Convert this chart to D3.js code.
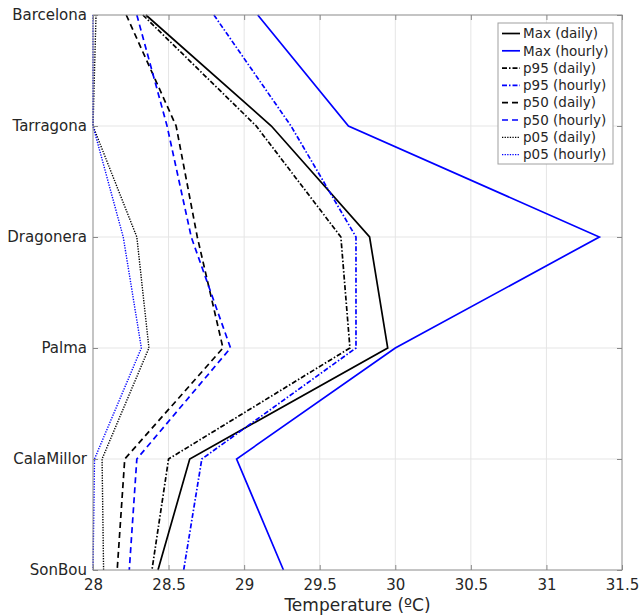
<!DOCTYPE html>
<meta charset="utf-8">
<style>
body { margin: 0; background: #fff; }
svg text { font-family: "DejaVu Sans", sans-serif; fill: #262626; }
.grid line { stroke: #e5e5e5; stroke-width: 1; }
.series path { fill: none; }
</style>
<svg width="640" height="616"></svg>
<script src="https://cdn.jsdelivr.net/npm/d3@7"></script>
<script>

// stations, top to bottom
var stations = ["Barcelona", "Tarragona", "Dragonera", "Palma", "CalaMillor", "SonBou"];

var xTicks = [28, 28.5, 29, 29.5, 30, 30.5, 31, 31.5];

// temperatures (ºC) per station
var maxDaily   = [28.35, 29.18, 29.83, 29.95, 28.64, 28.43];
var maxHourly  = [29.09, 29.69, 31.35, 30.00, 28.95, 29.26];
var p95Daily   = [28.33, 29.08, 29.64, 29.70, 28.50, 28.39];
var p95Hourly  = [28.80, 29.31, 29.74, 29.74, 28.72, 28.60];
var p50Daily   = [28.22, 28.55, 28.69, 28.86, 28.21, 28.16];
var p50Hourly  = [28.29, 28.49, 28.65, 28.91, 28.29, 28.24];
var p05Daily   = [28.02, 28.00, 28.29, 28.37, 28.06, 28.07];
var p05Hourly  = [28.00, 28.00, 28.20, 28.32, 28.01, 28.00];

var seriesNames = ["Max (daily)", "Max (hourly)", "p95 (daily)", "p95 (hourly)",
                   "p50 (daily)", "p50 (hourly)", "p05 (daily)", "p05 (hourly)"];
var seriesValues = [maxDaily, maxHourly, p95Daily, p95Hourly, p50Daily, p50Hourly, p05Daily, p05Hourly];

var colors = { daily: "#000000", hourly: "#0000ff" };
var dashes = { Max: null, p95: "5,2,1.5,2", p50: "6,4", p05: "1.3,1.3" };

var svg = d3.select("svg");
var pLeft = 93, pRight = 622, pTop = 15, pBottom = 570;

var x = d3.scaleLinear().domain([28, 31.5]).range([pLeft, pRight]);
var y = d3.scalePoint().domain(stations).range([pTop, pBottom]);

// grid
var grid = svg.append("g").attr("class", "grid");
grid.selectAll(".gx").data(xTicks.slice(1, -1)).enter().append("line")
    .attr("x1", function(d) { return x(d); }).attr("x2", function(d) { return x(d); })
    .attr("y1", pTop).attr("y2", pBottom);
grid.selectAll(".gy").data(stations.slice(1, -1)).enter().append("line")
    .attr("x1", pLeft).attr("x2", pRight)
    .attr("y1", function(d) { return y(d); }).attr("y2", function(d) { return y(d); });

// series
var line = d3.line()
    .x(function(d) { return x(d.v); })
    .y(function(d) { return y(d.s); });

var g = svg.append("g").attr("class", "series");
seriesNames.forEach(function(name, i) {
  var kind = name.split(" ")[0];
  var res = name.indexOf("hourly") >= 0 ? "hourly" : "daily";
  var pts = seriesValues[i].map(function(v, j) { return { v: v, s: stations[j] }; });
  g.append("path")
      .datum(pts)
      .attr("d", line)
      .attr("stroke", colors[res])
      .attr("stroke-width", kind === "p05" ? 1.4 : 1.7)
      .attr("stroke-dasharray", dashes[kind]);
});

// box + ticks
var axisColor = "#8a8a8a";
svg.append("rect")
    .attr("x", pLeft).attr("y", pTop)
    .attr("width", pRight - pLeft).attr("height", pBottom - pTop)
    .attr("fill", "none").attr("stroke", axisColor).attr("stroke-width", 1);

var xAxis = d3.axisBottom(x).tickValues(xTicks).tickSize(-5).tickPadding(9)
    .tickFormat(function(d) { return d; });
var gx = svg.append("g").attr("transform", "translate(0," + pBottom + ")").call(xAxis);
gx.select(".domain").remove();
gx.selectAll("line").attr("stroke", axisColor);
gx.selectAll("text").attr("font-size", 15).attr("fill", "#262626").attr("font-family", "DejaVu Sans");

var xTop = d3.axisTop(x).tickValues(xTicks).tickSize(-5).tickFormat("");
var gxt = svg.append("g").attr("transform", "translate(0," + pTop + ")").call(xTop);
gxt.select(".domain").remove();
gxt.selectAll("line").attr("stroke", axisColor);

var yAxis = d3.axisLeft(y).tickSize(-5).tickPadding(6);
var gy = svg.append("g").attr("transform", "translate(" + pLeft + ",0)").call(yAxis);
gy.select(".domain").remove();
gy.selectAll("line").attr("stroke", axisColor);
gy.selectAll("text").attr("font-size", 15).attr("fill", "#262626").attr("font-family", "DejaVu Sans");

var yRight = d3.axisRight(y).tickSize(-5).tickFormat("");
var gyr = svg.append("g").attr("transform", "translate(" + pRight + ",0)").call(yRight);
gyr.select(".domain").remove();
gyr.selectAll("line").attr("stroke", axisColor);

svg.append("text")
    .attr("x", (pLeft + pRight) / 2).attr("y", 611)
    .attr("text-anchor", "middle").attr("font-size", 17)
    .text("Temperature (ºC)");

// legend
var lg = svg.append("g").attr("transform", "translate(498,23)");
lg.append("rect").attr("width", 115).attr("height", 141)
    .attr("fill", "#fff").attr("stroke", "#a0a0a0").attr("stroke-width", 1);
seriesNames.forEach(function(name, i) {
  var kind = name.split(" ")[0];
  var res = name.indexOf("hourly") >= 0 ? "hourly" : "daily";
  var yy = 10.5 + i * 17.3;
  lg.append("line")
      .attr("x1", 4).attr("x2", 22).attr("y1", yy).attr("y2", yy)
      .attr("stroke", colors[res])
      .attr("stroke-width", kind === "p05" ? 1.2 : 1.7)
      .attr("stroke-dasharray", dashes[kind]);
  lg.append("text")
      .attr("x", 25).attr("y", yy).attr("dy", "0.35em")
      .attr("font-size", 13.5)
      .text(name);
});

</script>
